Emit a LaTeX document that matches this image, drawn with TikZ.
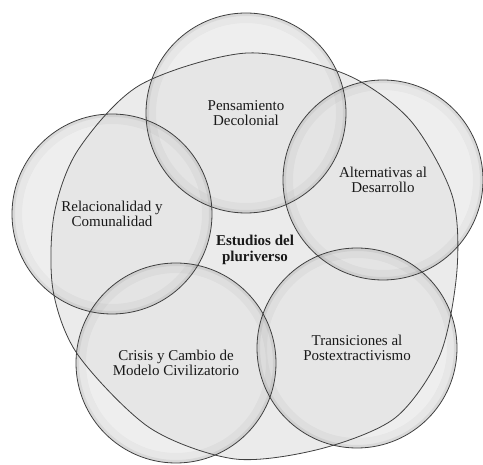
\documentclass[tikz,border=0pt]{standalone}
\usepackage{fontspec}
\setmainfont{Liberation Serif}
\usetikzlibrary{positioning}

\begin{document}
\begin{tikzpicture}[x=1pt, y=-1pt, every node/.style={font=\fontsize{15}{15.5}\selectfont, align=center, text=black!90}, bubble/.style={circle,minimum size=200pt,inner sep=0pt,fill=black!11,fill opacity=0.6}, glow/.style={draw=black,draw opacity=#1}, rim/.style={draw=black!75,line width=0.8pt}]
\useasboundingbox (0,0) rectangle (483,465);
\fill[black!8] plot[smooth cycle] coordinates {(247,53) (345,74) (410,120) (452,195) (457,270) (440,355) (395,418) (320,449) (235,459) (150,428) (78,355) (53,290) (54,215) (78,150) (140,85)};
\node[bubble] (deco) at (246,113) {};
\node[bubble] (alt) at (383,180) {};
\node[bubble] (trans) at (357,348) {};
\node[bubble] (crisis) at (176,363) {};
\node[bubble] (rel) at (112,214) {};
\foreach \n in {deco,alt,trans,crisis,rel} {
  \draw[glow=0.03,line width=10pt] (\n.center) circle[radius=95];
  \draw[glow=0.06,line width=3pt] (\n.center) circle[radius=98.5];
}
\draw[rim] plot[smooth cycle] coordinates {(247,53) (345,74) (410,120) (452,195) (457,270) (440,355) (395,418) (320,449) (235,459) (150,428) (78,355) (53,290) (54,215) (78,150) (140,85)};
\foreach \n in {deco,alt,trans,crisis,rel}
  \draw[rim] (\n.center) circle[radius=100];
\node (decotxt) at (deco) {Pensamiento\\Decolonial};
\node (alttxt) at (alt) {Alternativas al\\Desarrollo};
\node (transtxt) at (trans) {Transiciones al\\Postextractivismo};
\node (crisistxt) at (crisis) {Crisis y Cambio de\\Modelo Civilizatorio};
\node (reltxt) at (rel) {Relacionalidad y\\Comunalidad};
\node[font=\fontsize{15}{15.5}\selectfont\bfseries] (core) at (255,250) {Estudios del\\pluriverso};
\end{tikzpicture}
\end{document}
